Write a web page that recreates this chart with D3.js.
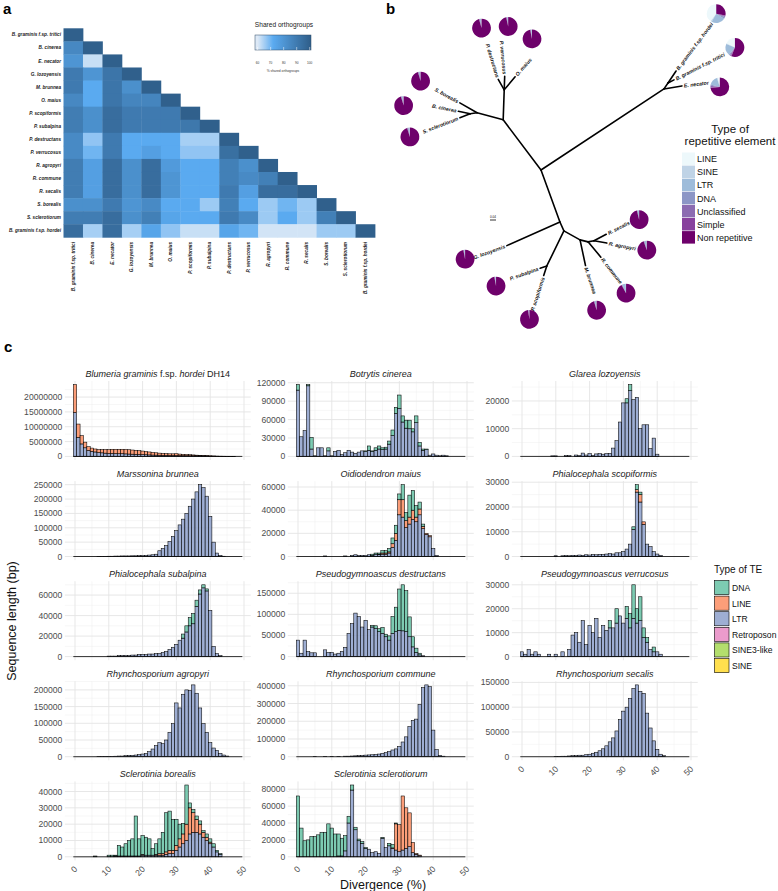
<!DOCTYPE html>
<html><head><meta charset="utf-8">
<script src="https://cdn.jsdelivr.net/npm/d3@7"></script>
<style>body{margin:0;background:#fff}svg{display:block}text{font-family:"Liberation Sans",Arial,Helvetica,sans-serif}</style>
</head><body>
<svg id="fig" width="778" height="891"></svg>
<script>
// ================= DATA =================
// ---- panel a: shared orthogroups (%) lower triangle ----
const species=["B. graminis f.sp. tritici","B. cinerea","E. necator","G. lozoyensis","M. brunnea","O. maius","P. scopiformis","P. subalpina","P. destructans","P. verrucosus","R. agropyri","R. commune","R. secalis","S. borealis","S. sclerotiorum","B. graminis f.sp. hordei"];
const shared=[
 [100],
 [85,100],
 [80,62,100],
 [90,80,92,100],
 [90,72,92,82,100],
 [85,72,92,86,86,100],
 [89,82,95,90,90,90,100],
 [89,82,95,90,90,90,91,100],
 [84,67,90,72,72,72,65,65,100],
 [84,70,90,72,76,72,67,67,94,100],
 [89,76,95,82,95,78,72,72,88,82,100],
 [89,76,95,82,95,80,72,72,88,84,88,100],
 [89,76,95,82,95,80,72,72,90,76,95,95,100],
 [82,82,90,80,84,72,72,66,88,72,66,70,66,100],
 [89,89,95,82,88,74,72,72,90,84,66,72,66,88,100],
 [95,65,95,65,74,67,62,62,74,70,61,61,61,66,66,100]
];
const sharedTicks=[60,70,80,90,100];

// ---- panel b: unrooted tree [child, parent, branch length, angle(deg)] ----
const treeEdges=[
 ["R","root",0.982,-33.4],["Rb","R",0.048,-56],["Bgh","Rb",0.096,-56],["Bgt","Rb",0.045,-27],["Enec","R",0.121,-9.5],
 ["UL","root",0.419,-127],["U","UL",0.2,-88],["Pd","U",0.08,-120],["Pv","U",0.09,-88],["Om","U",0.113,-50],
 ["L","UL",0.18,-165],["Sb","L",0.133,-150],["L2","L",0.047,172],["Bc","L2",0.08,-168],["Ss","L2",0.073,159],
 ["D","root",0.369,70],["G","D",0.387,156],["D2","D",0.065,66],["Psn","D2",0.26,116],["Psub","Psn",0.047,161],["Pscop","Psn",0.067,108],
 ["Rn","D2",0.123,29],["Mb","Rn",0.175,78],["Rn2","Rn",0.055,14],["Rc","Rn2",0.133,50],["Rn3","Rn2",0.04,-10],["Ra","Rn3",0.087,10],["Rs","Rn3",0.093,-28]
];
const tipIds=["Bgh","Bgt","Enec","Pd","Pv","Om","Sb","Bc","Ss","G","Psub","Pscop","Mb","Rc","Ra","Rs"];
const tipLabels=["B. graminis f.sp. hordei","B. graminis f.sp. tritici","E. necator","P. destructans","P. verrucosus","O. maius","S. borealis","B. cinerea","S. sclerotiorum","G. lozoyensis","P. subalpina","P. scopiformis","M. brunnea","R. commune","R. agropyri","R. secalis"];
const tipLabelAngle=[-53,-27,-7,-107,-95,-49,-151,-168,159,160,161,108,72,52,11,-27];
const pieDist=[0.467,0.46,0.253,0.36,0.333,0.277,0.299,0.367,0.357,0.293,0.317,0.307,0.307,0.293,0.271,0.24];
const pieAngle=[-55,-28,1.5,-108,-86,-66,-151,-174,159,162,158,108,76,55,10,-24];
const repTypes=["LINE","SINE","LTR","DNA","Unclassified","Simple","Non repetitive"];
const repColors=["#edf8fb","#bfd3e6","#9ebcda","#8c96c6","#8c6bb1","#88419d","#6e016b"];
const repShares=[ // per tip, % in repTypes order
 [40,2,24,3,2,1,28],[18,1,20,2,2,1,56],[4,1,16,2,3,1,73],
 [0.5,0.2,2,1,0.5,0.3,95.5],[0.3,0.1,1.5,0.8,0.5,0.3,96.5],[0.3,0.1,1.5,0.6,0.5,0.3,96.7],
 [0.3,0.1,2,1.5,0.6,0.3,95.2],[0.3,0.1,2.5,1,0.6,0.3,95.2],[0.5,0.1,2,1.5,0.5,0.3,95.1],
 [0.3,0.1,1.5,0.5,0.4,0.3,96.9],[0.3,0.1,1.5,0.5,0.4,0.3,96.9],[0.2,0.1,1.2,0.5,0.4,0.3,97.3],
 [0.3,0.1,3,0.5,0.5,0.3,95.3],[0.5,0.1,6,0.5,0.8,0.3,91.8],[0.3,0.1,4,0.4,0.5,0.3,94.4],[0.3,0.1,2.5,0.4,0.4,0.3,96]
];

// ---- panel c: TE divergence histograms (sequence length, kb per 1% bin, bins 0..49) ----
const teTitles=["Blumeria graminis f.sp. hordei DH14","Botrytis cinerea","Glarea lozoyensis","Marssonina brunnea","Oidiodendron maius","Phialocephala scopiformis","Phialocephala subalpina","Pseudogymnoascus destructans","Pseudogymnoascus verrucosus","Rhynchosporium agropyri","Rhynchosporium commune","Rhynchosporium secalis","Sclerotinia borealis","Sclerotinia sclerotiorum"];
const teTypes=["DNA","LINE","LTR","Retroposon","SINE3-like","SINE"];
const teColors=["#66c2a5","#fc8d62","#8da0cb","#e78ac3","#a6d854","#ffd92f"];
const divergenceTicks=[0,10,20,30,40,50];

const bgh_LTR=[14800,6400,4200,2900,2000,1700,1500,1300,1200,1100,1000,1000,950,900,900,850,800,750,700,650,600,550,500,450,420,400,380,350,330,320,300,280,260,240,220,200,170,150,120,100,90,70,50,40,30,20,10,5,0,0];
const bgh_LINE=[9400,4500,2800,1900,1300,1100,1000,1000,1100,1200,1300,1400,1450,1500,1500,1500,1450,1400,1350,1300,1200,1100,1000,900,800,700,650,600,550,550,600,500,450,400,350,300,250,200,180,150,120,90,60,40,30,20,10,5,0,0];
const bci_LTR=[108,32,42,115,12,1,14,14,1,9,1,8,10,3,6,10,7,5,7,9,8,10,8,10,12,11,12,20,34,70,78,56,46,45,40,55,17,10,11,2,4,2,1,2,1,0,0,0,0,0];
const bci_DNA=[9,0,0,2,19,0,0,0,0,5,0,0,0,0,0,0,0,0,0,0,1,7,1,4,5,3,3,5,9,10,22,10,13,14,5,11,6,2,1,0,0,0,0,0,0,0,0,0,0,0];
const glo_LTR=[0,0,0,0,0,0,0,0,0,0.2,0.2,0,0,0.3,0.3,0,0.5,0.3,1.2,0.5,1.0,0.4,0.9,1.0,0.8,1.0,1.1,3.0,5.7,12.4,19.3,19.3,23.7,20.5,21.3,10.0,11.4,11.4,2.8,6.6,0.8,0,0,0,0,0,0,0,0,0];
const glo_DNA=[0,0,0,0,0,0,0,0,0,0,0,0,0,0,0,0,0,0,0,0,0,0,0,0,0,0,0,0,0,0,0,1.5,2.2,0,0,0,0,0,0,0,0,0,0,0,0,0,0,0,0,0];
const mbr_LTR=[0,0,0,0,0,0,0,0.3,0.3,0.5,1,1,1.5,1.5,2,2,2,2.5,2.5,3,3,4,5,6,8,20,28,38,52,70,90,110,130,150,175,200,225,250,240,210,140,50,12,4,1,0,0,0,0,0];
const oma_LTR=[0,0,0,0,0,0,0,0,0.5,0,0,0,0,0,0.5,0,1,1.5,1,1,1,1.5,1,2,1.5,2,2,3,8,14,36,34,25,28,32,30,36,24,19,17,7,1,0,0,0,0,0,0,0,0];
const oma_LINE=[0,0,0,0,0,0,0,0,0,0,0,0,0,0,0,0,0,0,0,0,0,0,0,0,0.5,1,1,1,3,6,13,15,6,6,8,4,5,2,1,1,0,0,0,0,0,0,0,0,0,0];
const oma_DNA=[0,0,0,0,0,0,0,0,0,0,0,0,0,0,0,0,0,0,0,0,0,0,1,1,1,2,2,3,5,7,5,13,7,19,17,10,6,2,0,0,0,0,0,0,0,0,0,0,0,0];
const psc_LTR=[0,0,0,0,0,0,0,0,0,0,0.3,0,0.3,0.4,0.3,0.5,0.4,0.6,0.5,0.7,0.6,0.8,0.7,0.9,0.8,1.0,1.2,1.0,1.5,1.5,2,3,5,11,26,22,13,5,4,2,1,0.5,0,0,0,0,0,0,0,0];
const psc_LINE=[0,0,0,0,0,0,0,0,0,0,0,0,0,0,0,0,0,0,0,0,0,0,0,0,0,0,0,0,0,0,0,0,0,0,1,3,1,0,0,0,0,0,0,0,0,0,0,0,0,0];
const psc_DNA=[0,0,0,0,0,0,0,0,0,0,0,0,0,0,0,0,0,0,0,0,0,0,0,0,0,0,0,0,0,0,0,0,0,1,2,1,0,0,0,0,0,0,0,0,0,0,0,0,0,0];
const psu_LTR=[0,0,0,0,0,0,0,0,0,0,0.5,0.5,0.5,1,1,1,1,1.5,1.5,2,2,2,2.5,2.5,3,3,4,5,7,9,12,16,18,24,30,32,49,61,67,64,45,10,3,1,0,0,0,0,0,0];
const psu_DNA=[0,0,0,0,0,0,0,0,0,0,0,0,0,0,0,0,0,0,0,0,0,0,0,0,0,0,0,0,0,0,0,0,4,6,8,10,6,4,3,2,0,0,0,0,0,0,0,0,0,0];
const pde_LTR=[39,8,39,12,9,9,0,0,16,10,10,6,8,12,22,55,78,103,95,70,86,64,70,66,59,55,47,39,55,59,62,61,59,47,23,10,4,2,0,0,0,0,0,0,0,0,0,0,0,0];
const pde_DNA=[0,0,0,0,0,0,0,0,0,0,0,0,0,0,0,0,0,0,0,0,0,0,4,7,7,14,6,10,40,58,98,109,97,47,24,10,4,0,0,0,0,0,0,0,0,0,0,0,0,0];
const pve_LTR=[2,1,3,1,2,1,0,0,1,0,1,0,2,0,3,9,10,6,15,5,13,10,16,8,13,11,12,12,14,17,14,16,12,16,14,15,8,6,3,2,2,1,0,0,0,0,0,0,0,0];
const pve_DNA=[0,0,0,0,0,0,0,0,0,0,0,0,0,0,0,0,0,0,0,0,0,0,0,0,0,0,3,0,6,0,0,5,6,14,6,10,4,2,0,2,0,0,0,0,0,0,0,0,0,0];
const rag_LTR=[0,0,0,0,0,0,0,0.5,0.5,1,1,1,1.5,2,2,3,4,4,5,6,8,10,15,23,33,42,39,50,73,99,161,146,187,200,198,215,190,146,99,73,42,26,19,10,5,2,0,0,0,0];
const rco_LTR=[0,0,0,0,0,1,0,0,1,0,2,0,2,0,3,3,4,5,6,7,9,10,11,13,15,19,23,29,38,44,58,83,112,170,204,212,295,390,405,395,150,40,8,3,0,0,0,0,0,0];
const rse_LTR=[0,0,0,0,0,0,0,0,0,0,0.5,0.5,1,1,1.5,2,2,3,3,4,5,7,9,12,16,22,30,38,52,75,92,100,118,138,145,132,128,88,58,32,15,5,2,0,0,0,0,0,0,0];
const sbo_LTR=[0,0,0,0,0,0,0,0,0,0,0,0,0.5,0.5,0.5,0.5,0.5,0.5,0.5,0.5,1,1,1,1,1,1,1,1.5,2,2,4,6,8,10,14,15,15,14,12,10,8,6,3,1.5,0,0,0,0,0,0];
const sbo_LINE=[0,0,0,0,0,0,0,0,0,0,0,0,0,0,0,0,0,0,0,0,0.5,0,0,0,0.5,1,1,1.5,2,2,3,5,6,10,16,12,8,6,3,2,1,0,0,0,0,0,0,0,0,0];
const sbo_DNA=[0,0,0,0,0,0,0.5,0,0,0,1,1,0.5,6.5,5.5,7.5,9.5,10.5,24.5,10.5,11.5,11,10,4,6.5,9,13,24,24,19,16,9,6.5,24,3,2,2,2,1,2,2,2,1,0.5,0,0,0,0,0,0];
const ssc_LTR=[0,0,0,0,0,0,0,0,0,0,0,0,1,1,7,40,79,32,19,16,10,9,5,6,4,22,11,13,10,8,6,8,10,12,5,3,1.5,0,0,0,0,0,0,0,0,0,0,0,0,0];
const ssc_LINE=[0,0,0,0,0,0,0,0,0,0,0,0,0,0,0,0,0,0,0,0,0,0,0,0,0,0,0,0,0.5,31,32,64,48,40,12,1,0.5,0,0,0,0,0,0,0,0,0,0,0,0,0];
const ssc_DNA=[72,34,19,20,24,24,26,29,29,39,34,27,26,21,18,8,6,3,2,2,1,0,0,0,0,1,0,3,4,1,0,0,0,0,0,0,0,0,0,0,0,0,0,0,0,0,0,0,0,0];

const teLTR=[bgh_LTR,bci_LTR,glo_LTR,mbr_LTR,oma_LTR,psc_LTR,psu_LTR,pde_LTR,pve_LTR,rag_LTR,rco_LTR,rse_LTR,sbo_LTR,ssc_LTR];
const teLINE=[bgh_LINE,null,null,null,oma_LINE,psc_LINE,null,null,null,null,null,null,sbo_LINE,ssc_LINE];
const teDNA=[null,bci_DNA,glo_DNA,null,oma_DNA,psc_DNA,psu_DNA,pde_DNA,pve_DNA,null,null,null,sbo_DNA,ssc_DNA];
const teYTicks=[[0,5e6,1e7,1.5e7,2e7],[0,3e4,6e4,9e4,1.2e5],[0,1e4,2e4],[0,5e4,1e5,1.5e5,2e5,2.5e5],[0,2e4,4e4,6e4],[0,1e4,2e4,3e4],[0,2e4,4e4,6e4],[0,5e4,1e5,1.5e5],[0,1e4,2e4,3e4],[0,5e4,1e5,1.5e5,2e5],[0,1e5,2e5,3e5,4e5],[0,5e4,1e5,1.5e5],[0,1e4,2e4,3e4,4e4],[0,2e4,4e4,6e4,8e4]];

// ================= DRAW =================
const svg=d3.select("#fig");
svg.append("rect").attr("width",778).attr("height",891).attr("fill","#fff");
function letter(t,x,y){svg.append("text").attr("x",x).attr("y",y).attr("font-size",15).attr("font-weight","bold").text(t);}
letter("a",3,14);letter("b",386,14);letter("c",4,352);

// ---------- panel a ----------
const heatColor=d3.scaleLinear().domain([60,72,100]).range(["#dde9f6","#5aaaf0","#30608c"]).clamp(true);
const xA=d3.scaleBand().domain(species).range([63.5,375]);
const yA=d3.scaleBand().domain(species).range([28.3,237.3]);
const gA=svg.append("g");
const cells=[];
shared.forEach((row,i)=>row.forEach((v,j)=>cells.push({r:species[i],c:species[j],v})));
gA.selectAll("rect.cell").data(cells).join("rect").attr("class","cell")
 .attr("x",d=>xA(d.c)).attr("y",d=>yA(d.r))
 .attr("width",xA.bandwidth()+0.4).attr("height",yA.bandwidth()+0.4)
 .attr("fill",d=>heatColor(d.v));
gA.selectAll("text.rl").data(species).join("text").attr("class","rl")
 .attr("x",61).attr("y",d=>yA(d)+yA.bandwidth()/2+1.6)
 .attr("text-anchor","end").attr("font-size",4.7).attr("font-style","italic").attr("font-weight","bold").attr("fill","#222").text(d=>d);
gA.selectAll("text.cl").data(species).join("text").attr("class","cl")
 .attr("transform",d=>`translate(${xA(d)+xA.bandwidth()/2+1.6},242) rotate(-90)`)
 .attr("text-anchor","end").attr("font-size",4.7).attr("font-style","italic").attr("font-weight","bold").attr("fill","#222").text(d=>d);
// colour bar legend
const xL=d3.scaleLinear().domain([58,101]).range([255,311]);
const grad=svg.append("defs").append("linearGradient").attr("id","hg");
d3.range(58,101.5,0.5).forEach(v=>grad.append("stop").attr("offset",(v-58)/43).attr("stop-color",heatColor(v)));
svg.append("text").attr("x",284).attr("y",27).attr("text-anchor","middle").attr("font-size",6.6).attr("fill","#222").text("Shared orthogroups");
svg.append("rect").attr("x",xL(58)).attr("y",35).attr("width",xL(101)-xL(58)).attr("height",15).attr("fill","url(#hg)").attr("stroke","#2d4a66").attr("stroke-width",0.5);
svg.selectAll("line.lt").data(sharedTicks).join("line").attr("class","lt")
 .attr("x1",d=>xL(d)).attr("x2",d=>xL(d)).attr("y1",47).attr("y2",50).attr("stroke","#fff").attr("stroke-width",0.5);
svg.selectAll("text.lt").data(sharedTicks).join("text").attr("class","lt")
 .attr("x",d=>xL(d)).attr("y",64).attr("text-anchor","middle").attr("font-size",3.2).attr("fill","#333").text(d=>d);
svg.append("text").attr("x",283).attr("y",71.5).attr("text-anchor","middle").attr("font-size",3.3).attr("fill","#333").text("% shared orthogroups");

// ---------- panel b ----------
const bl=d3.scaleLinear().domain([0,1]).range([0,150]);
const root={x:541,y:170};
const pos={root};
treeEdges.forEach(([c,p,len,ang])=>{const a=ang*Math.PI/180;pos[c]={x:pos[p].x+bl(len)*Math.cos(a),y:pos[p].y+bl(len)*Math.sin(a)};});
const gB=svg.append("g");
gB.selectAll("line.br").data(treeEdges).join("line").attr("class","br")
 .attr("x1",d=>pos[d[1]].x).attr("y1",d=>pos[d[1]].y).attr("x2",d=>pos[d[0]].x).attr("y2",d=>pos[d[0]].y)
 .attr("stroke","#000").attr("stroke-width",1.6).attr("stroke-linecap","round");
tipIds.forEach((id,i)=>{
  const p=pos[id];const a=tipLabelAngle[i];const r=a*Math.PI/180;
  const flip=Math.cos(r)<0;
  const tx=p.x+2*Math.cos(r),ty=p.y+2*Math.sin(r);
  gB.append("text").attr("transform",`translate(${tx},${ty}) rotate(${flip?a+180:a})`)
   .attr("text-anchor",flip?"end":"start").attr("dy","0.35em").attr("font-size",5.2).attr("font-style","italic").attr("font-weight","bold").attr("fill","#111").text(tipLabels[i]);
  const pa=pieAngle[i]*Math.PI/180;
  const cx=p.x+bl(pieDist[i])*Math.cos(pa),cy=p.y+bl(pieDist[i])*Math.sin(pa);
  const arcs=d3.pie().sort(null).startAngle(0).endAngle(-2*Math.PI)(repShares[i]);
  gB.append("g").attr("transform",`translate(${cx},${cy})`).selectAll("path").data(arcs).join("path")
   .attr("d",d3.arc().innerRadius(0).outerRadius(9.4)).attr("fill",(d,k)=>repColors[k]);
});
// scale bar
gB.append("line").attr("x1",490).attr("x2",490+bl(0.04)).attr("y1",220).attr("y2",220).attr("stroke","#000").attr("stroke-width",0.8);
gB.append("text").attr("x",490+bl(0.02)).attr("y",217.5).attr("text-anchor","middle").attr("font-size",3).text("0.04");
// legend b
svg.append("text").attr("x",730).attr("y",133).attr("text-anchor","middle").attr("font-size",11.5).attr("fill","#111").text("Type of");
svg.append("text").attr("x",730).attr("y",144.5).attr("text-anchor","middle").attr("font-size",11.5).attr("fill","#111").text("repetitive element");
const yLB=d3.scaleBand().domain(repTypes).range([152.5,244.2]);
svg.selectAll("rect.lb").data(repTypes).join("rect").attr("class","lb")
 .attr("x",682).attr("y",d=>yLB(d)).attr("width",13).attr("height",yLB.bandwidth()-0.6).attr("fill",(d,i)=>repColors[i]);
svg.selectAll("text.lb").data(repTypes).join("text").attr("class","lb")
 .attr("x",697).attr("y",d=>yLB(d)+yLB.bandwidth()/2+3.2).attr("font-size",9).attr("fill","#111").text(d=>d);

// ---------- panel c ----------
const colZero=[75,298,522], unit=3.38;
const fmt=d3.format("d");
teTitles.forEach((title,i)=>{
  const col=i%3,row=Math.floor(i/3);
  const top=381+100.1*row,bottom=460+100.1*row;
  const x=d3.scaleLinear().domain([-3,52]).range([colZero[col]-3*unit,colZero[col]+52*unit]);
  const series=[teLTR[i],teLINE[i],teDNA[i]];
  const totals=d3.range(50).map(k=>series.reduce((s,a)=>s+(a?a[k]:0),0)*1000);
  const maxV=d3.max(totals);
  const y=d3.scaleLinear().domain([-0.05*maxV,1.05*maxV]).range([bottom,top]);
  const g=svg.append("g");
  const ticks=teYTicks[i];
  const step=ticks[1]-ticks[0];
  const minorY=d3.range(step/2,1.05*maxV,step);
  g.selectAll("line.my").data(minorY).join("line").attr("x1",x(-3)).attr("x2",x(52)).attr("y1",d=>y(d)).attr("y2",d=>y(d)).attr("stroke","#efefef").attr("stroke-width",0.5);
  const minorX=[5,15,25,35,45];
  g.selectAll("line.mx").data(minorX).join("line").attr("x1",d=>x(d)).attr("x2",d=>x(d)).attr("y1",top).attr("y2",bottom).attr("stroke","#efefef").attr("stroke-width",0.5);
  g.selectAll("line.gy").data(ticks).join("line").attr("x1",x(-3)).attr("x2",x(52)).attr("y1",d=>y(d)).attr("y2",d=>y(d)).attr("stroke","#e4e4e4").attr("stroke-width",0.9);
  g.selectAll("line.gx").data(divergenceTicks).join("line").attr("x1",d=>x(d)).attr("x2",d=>x(d)).attr("y1",top).attr("y2",bottom).attr("stroke","#e4e4e4").attr("stroke-width",0.9);
  g.selectAll("text.yl").data(ticks).join("text").attr("x",x(-3)-2.5).attr("y",d=>y(d)+3).attr("text-anchor","end").attr("font-size",8.6).attr("fill","#4d4d4d").text(d=>fmt(d));
  const order=[[0,2],[1,1],[2,0]]; // [series idx, colour idx]: LTR bottom, LINE, DNA top
  const segs=[];
  for(let k=0;k<50;k++){let base=0;order.forEach(([s,c])=>{const a=series[s];const v=a?a[k]*1000:0;if(v>0){segs.push({k,y0:base,y1:base+v,c});base+=v;}});}
  g.selectAll("rect.bar").data(segs).join("rect")
   .attr("x",d=>x(d.k-0.5)).attr("width",x(1)-x(0)).attr("y",d=>y(d.y1)).attr("height",d=>y(d.y0)-y(d.y1))
   .attr("fill",d=>teColors[d.c]).attr("fill-opacity",0.85).attr("stroke","#000").attr("stroke-width",0.55);
  g.append("line").attr("x1",x(-0.5)).attr("x2",x(49.5)).attr("y1",y(0)).attr("y2",y(0)).attr("stroke","#000").attr("stroke-width",0.8);
  const t=g.append("text").attr("x",(x(-3)+x(52))/2).attr("y",top-4.5).attr("text-anchor","middle").attr("font-size",9).attr("fill","#1a1a1a");
  if(i===0){
    t.append("tspan").attr("font-style","italic").text("Blumeria graminis ");
    t.append("tspan").text("f.sp. ");
    t.append("tspan").attr("font-style","italic").text("hordei ");
    t.append("tspan").text("DH14");
  } else t.attr("font-style","italic").text(title);
  if(row===4||(col===2&&row===3)){
    g.selectAll("text.xl").data(divergenceTicks).join("text")
     .attr("transform",d=>`translate(${x(d)+3},${bottom+9.3}) rotate(-45)`).attr("text-anchor","end").attr("font-size",8.6).attr("fill","#4d4d4d").text(d=>d);
  }
});
svg.append("text").attr("transform","translate(16,621) rotate(-90)").attr("text-anchor","middle").attr("font-size",12.5).attr("fill","#111").text("Sequence length (bp)");
svg.append("text").attr("x",383).attr("y",888.5).attr("text-anchor","middle").attr("font-size",12.5).attr("fill","#111").text("Divergence (%)");
// legend c
svg.append("text").attr("x",714).attr("y",573).attr("font-size",10).attr("fill","#111").text("Type of TE");
const yLC=d3.scaleBand().domain(teTypes).range([580,673.6]);
svg.selectAll("rect.lc").data(teTypes).join("rect").attr("class","lc")
 .attr("x",714.5).attr("y",d=>yLC(d)+0.5).attr("width",14.5).attr("height",yLC.bandwidth()-1.5)
 .attr("fill",(d,i)=>teColors[i]).attr("fill-opacity",0.85).attr("stroke","#000").attr("stroke-width",0.6);
svg.selectAll("text.lc").data(teTypes).join("text").attr("class","lc")
 .attr("x",732).attr("y",d=>yLC(d)+yLC.bandwidth()/2+3.2).attr("font-size",8.6).attr("fill","#111").text(d=>d);
</script></body></html>
